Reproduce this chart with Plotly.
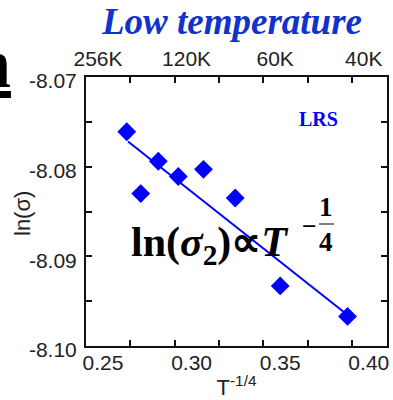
import plotly.graph_objects as go

# ---- data ----
t_inv_quarter = [0.2730, 0.2809, 0.2908, 0.3021, 0.3163, 0.3342, 0.3596, 0.3976]
ln_sigma = [-8.0761, -8.0830, -8.0794, -8.0811, -8.0803, -8.0835, -8.0933, -8.0967]
fit_x = [0.2737, 0.3980]
fit_y = [-8.0772, -8.0966]

x_ticks = [0.25, 0.30, 0.35, 0.40]
x_ticktext = ["0.25", "0.30", "0.35", "0.40"]
x_minor = [0.275, 0.325, 0.375]
top_ticktext = ["256K", "120K", "60K", "40K"]
y_ticks = [-8.10, -8.09, -8.08, -8.07]
y_ticktext = ["-8.10", "-8.09", "-8.08", "-8.07"]
y_minor = [-8.095, -8.085, -8.075]

W, H = 393, 400
ML, MR, MT, MB = 86, 6, 77, 54
PW, PH = W - ML - MR, H - MT - MB

def px(xp):
    return (xp - ML) / PW

def py(yp):
    return (H - MB - yp) / PH

BLUE = "#0000ff"
TITLE_BLUE = "rgb(17,51,204)"
SANS = "Liberation Sans, Arial, sans-serif"
SERIF = "Liberation Serif, Times New Roman, serif"

fig = go.Figure()
fig.add_trace(go.Scatter(x=fit_x, y=fit_y, mode="lines",
                         line=dict(color=BLUE, width=2), showlegend=False, hoverinfo="skip"))
fig.add_trace(go.Scatter(x=t_inv_quarter, y=ln_sigma, mode="markers",
                         marker=dict(symbol="diamond", size=14.5, color=BLUE, line=dict(width=0)),
                         showlegend=False))
fig.add_trace(go.Scatter(x=t_inv_quarter, y=ln_sigma, mode="markers", xaxis="x2",
                         marker=dict(opacity=0), showlegend=False, hoverinfo="skip"))

xr = [0.25, 0.25 + PW / 1772.0]

fig.update_layout(
    width=W, height=H,
    margin=dict(l=ML, r=MR, t=MT, b=MB, pad=0, autoexpand=False),
    paper_bgcolor="white", plot_bgcolor="white",
    font=dict(family=SANS, color="#222"),
    xaxis=dict(
        range=xr, tickmode="array", tickvals=x_ticks, ticktext=x_ticktext, automargin=False,
        ticks="inside", ticklen=6, tickwidth=2, tickcolor="#111",
        minor=dict(tickmode="array", tickvals=x_minor, ticks="inside", ticklen=6, tickwidth=2, tickcolor="#111"),
        showline=True, linewidth=2, linecolor="#111", mirror="ticks",
        showgrid=False, zeroline=False,
        tickfont=dict(size=21, family=SANS, color="#222"),
        ticklabelshift=17, ticklabelstandoff=-3,
        title=dict(text="T<sup>-1/4</sup>", font=dict(size=22, family=SANS, color="#222"), standoff=13),
    ),
    xaxis2=dict(
        overlaying="x", side="top", matches="x", anchor="y", automargin=False,
        tickmode="array", tickvals=x_ticks, ticktext=top_ticktext,
        ticks="", showline=False, showgrid=False, zeroline=False,
        tickfont=dict(size=21, family=SANS, color="#222"),
        ticklabelshift=12, ticklabelstandoff=6,
    ),
    yaxis=dict(
        range=[-8.10, -8.07], tickmode="array", tickvals=y_ticks, ticktext=y_ticktext, automargin=False,
        ticks="inside", ticklen=6, tickwidth=2, tickcolor="#111",
        minor=dict(tickmode="array", tickvals=y_minor, ticks="inside", ticklen=6, tickwidth=2, tickcolor="#111"),
        showline=True, linewidth=2, linecolor="#111", mirror="ticks",
        showgrid=False, zeroline=False,
        tickfont=dict(size=21, family=SANS, color="#222"),
        ticklabelshift=4, ticklabelstandoff=3,
    ),
)

ann = [
    dict(text="ln(σ)", x=px(22), y=py(214), xanchor="center", yanchor="middle", textangle=-90,
         font=dict(size=22, family=SANS, color="#222")),
    dict(text="<b><i>Low temperature</i></b>", x=px(231), y=py(22), xanchor="center", yanchor="middle",
         font=dict(size=37, family=SERIF, color=TITLE_BLUE)),
    dict(text="<b>LRS</b>", x=px(318), y=py(119), xanchor="center", yanchor="middle",
         font=dict(size=20, family=SERIF, color=BLUE)),
    dict(text="<b>ln(<i>σ</i><sub>2</sub>)∝<i>T</i></b>", x=px(129), y=py(245), xanchor="left", yanchor="middle",
         font=dict(size=42, family=SERIF, color="black")),
    dict(text="<b>−</b>", x=px(309), y=py(226), xanchor="center", yanchor="middle",
         font=dict(size=26, family=SERIF, color="black")),
    dict(text="<b>1</b>", x=px(326), y=py(207), xanchor="center", yanchor="middle",
         font=dict(size=27, family=SERIF, color="black")),
    dict(text="<b>4</b>", x=px(326), y=py(242), xanchor="center", yanchor="middle",
         font=dict(size=27, family=SERIF, color="black")),
    dict(text="<b><u>n</u></b>", x=px(13), y=py(63), xanchor="right", yanchor="middle",
         font=dict(size=70, family=SERIF, color="black")),
]
for a in ann:
    a.update(xref="paper", yref="paper", showarrow=False)
fig.update_layout(annotations=ann)
fig.add_shape(type="line", xref="paper", yref="paper", x0=px(319), x1=px(334), y0=py(224), y1=py(224),
              line=dict(color="#555", width=1.5))

fig.write_html("out.html", config={"displayModeBar": False},
               post_script="document.body.style.margin='0';document.body.style.overflow='hidden';")
